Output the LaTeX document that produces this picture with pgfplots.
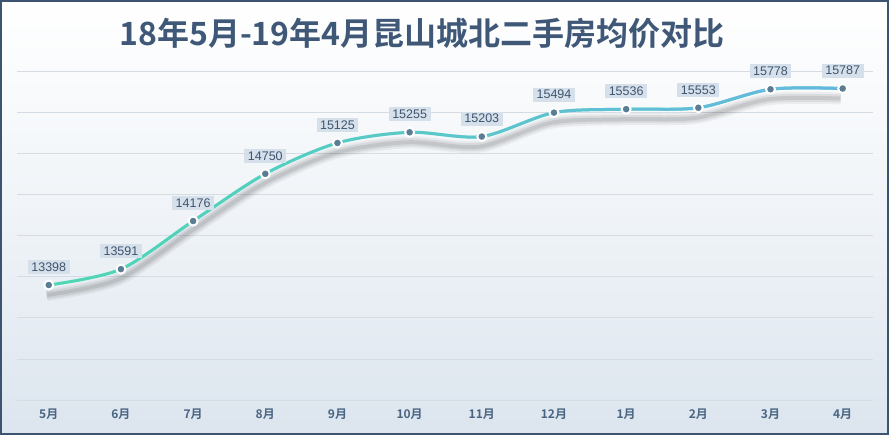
\documentclass[border=0pt]{standalone}
\usepackage{pgfplots}
\usepackage{pgfplotstable}
\pgfplotsset{compat=1.18}
\usepackage{fontspec}
\setmainfont{Liberation Sans}
\newfontfamily\cjk{Noto Sans CJK SC}[BoldFont={Noto Sans CJK SC Bold}]
\usetikzlibrary{fadings}
\tikzfading[name=fadeR, left color=transparent!100, middle color=transparent!40, right color=transparent!0]
\definecolor{titlec}{HTML}{3F5877}
\definecolor{tickc}{HTML}{4A6583}
\definecolor{framec}{HTML}{3D5470}
\definecolor{bgbot}{HTML}{DCE5EE}
\definecolor{gridc}{HTML}{D5DCE3}
\definecolor{linea}{HTML}{4ED8B4}
\definecolor{lineb}{HTML}{68B6E2}
\definecolor{markc}{HTML}{5A7D93}
\definecolor{labfill}{HTML}{D6E0EA}
\definecolor{labtext}{HTML}{3D5470}
\pgfplotstableread{
x y
0 13398
1 13591
2 14176
3 14750
4 15125
5 15255
6 15203
7 15494
8 15536
9 15553
10 15778
11 15787
}\pricedata
\begin{document}
\begin{tikzpicture}[x=1pt,y=1pt]
\useasboundingbox (-17,-35) rectangle (872,400);
\shade[top color=white, bottom color=bgbot, middle color=white!55!bgbot] (-17,-35) rectangle (872,400);
\node[font=\cjk\bfseries\fontsize{32}{32}\selectfont, text=titlec] at (405,367) {18年5月-19年4月昆山城北二手房均价对比};
\begin{axis}[at={(0,0)}, anchor=south west, scale only axis,
  width=856pt, height=329pt,
  xmin=-0.44, xmax=11.42, ymin=12000, ymax=16000,
  xtick={0,...,11},
  xticklabels={5月,6月,7月,8月,9月,10月,11月,12月,1月,2月,3月,4月},
  ytick={12000,12500,...,16000}, yticklabels={}, scaled y ticks=false,
  ymajorgrids, grid style={draw=gridc, line width=0.7pt},
  axis line style={draw=none}, major tick length=0pt,
  xticklabel style={font=\cjk\bfseries\fontsize{12}{12}\selectfont, text=tickc, yshift=-5pt},
  clip=false]
\addplot[smooth, draw=black, opacity=0.05, line width=12pt, xshift=-2pt, yshift=-10pt] table {\pricedata};
\addplot[smooth, draw=black, opacity=0.07, line width=8pt, xshift=-2pt, yshift=-10pt] table {\pricedata};
\addplot[smooth, draw=black, opacity=0.09, line width=4pt, xshift=-2pt, yshift=-10pt] table {\pricedata};
\addplot[smooth, draw=linea, line width=3pt] table {\pricedata};
\addplot[smooth, draw=lineb, line width=3pt, path fading=fadeR] table {\pricedata};
\addplot[only marks, mark=*, mark size=4.5pt, mark options={fill=markc, draw=white, line width=2pt},
  nodes near coords, point meta=explicit symbolic,
  every node near coord/.append style={anchor=south, yshift=10pt, fill=labfill, text=labtext,
    font=\fontsize{12.5}{12.5}\selectfont, inner xsep=3.5pt, inner ysep=2.5pt}]
  table[meta=y] {\pricedata};
\end{axis}
\draw[framec, line width=2pt] (-16,-34) rectangle (871,399);
\end{tikzpicture}
\end{document}
